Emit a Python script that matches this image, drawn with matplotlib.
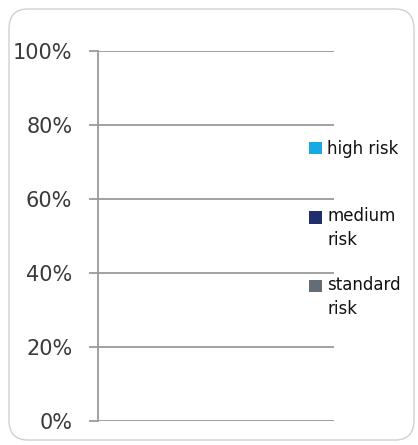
import matplotlib.pyplot as plt
import numpy as np
from matplotlib.patches import FancyBboxPatch, Rectangle
from matplotlib.legend import Legend
from matplotlib.legend_handler import HandlerPatch
from matplotlib.ticker import PercentFormatter

# Data (the chart shows no visible bars: every share is zero)
categories = [""]
standard_risk = [0]
medium_risk = [0]
high_risk = [0]
y_ticks = [0, 20, 40, 60, 80, 100]

colors = {
    "high": "#17A9E1",
    "medium": "#1F2E6E",
    "standard": "#646C75",
}

fig = plt.figure(figsize=(4.18, 4.45), dpi=100)

# rounded frame around the chart
frame = FancyBboxPatch((9 / 418, 5 / 445), 405 / 418, 431 / 445,
                       boxstyle="round,pad=0,rounding_size=0.045",
                       transform=fig.transFigure, facecolor="white",
                       edgecolor="#d0d0d0", linewidth=1.0, zorder=-10)
fig.patches.append(frame)

ax = fig.add_axes([98 / 418, 1 - 421 / 445, (334 - 98) / 418, (421 - 51) / 445])
ax.set_facecolor("none")
ax.set_zorder(5)

x = np.arange(len(categories))
b1 = ax.bar(x, standard_risk, width=0.5, color=colors["standard"], label="standard\nrisk")
b2 = ax.bar(x, medium_risk, width=0.5, bottom=standard_risk,
            color=colors["medium"], label="medium\nrisk")
bottom2 = np.array(standard_risk) + np.array(medium_risk)
b3 = ax.bar(x, high_risk, width=0.5, bottom=bottom2, color=colors["high"], label="high risk")

ax.set_xlim(-0.5, 0.5)
ax.set_ylim(0, 100)
ax.set_yticks(y_ticks)
ax.yaxis.set_major_formatter(PercentFormatter(decimals=0))
ax.set_xticks([])

for s in ["top", "right", "bottom"]:
    ax.spines[s].set_visible(False)
ax.spines["left"].set_color("#9a9a9a")
ax.spines["left"].set_linewidth(1.3)

ax.grid(axis="y", color="#9a9a9a", linewidth=1.3)
ax.set_axisbelow(True)
ax.tick_params(axis="y", length=6.5, width=1.3, color="#9a9a9a",
               pad=12, labelsize=15, labelcolor="#3a3a3a")


# swatch aligned with the first line of a two-line label
def top_square(shift):
    def f(legend, orig_handle, xdescent, ydescent, width, height, fontsize):
        return Rectangle((-xdescent, -ydescent + shift), width, height)
    return f


FS = 12
LINE_GAP = 1.42
entries = [
    (b3, "high risk", 0.736, 0),
    (b2, "medium\nrisk", 0.522, 8.4),
    (b1, "standard\nrisk", 0.336, 8.4),
]
for container, label, ypos, shift in entries:
    handle = container.patches[0]
    leg = Legend(ax, [handle], [label], loc="center left",
                 bbox_to_anchor=(0.894, ypos), frameon=False,
                 fontsize=FS, handlelength=0.78, handleheight=0.78,
                 handletextpad=0.32, borderpad=0, borderaxespad=0,
                 handler_map={handle: HandlerPatch(patch_func=top_square(shift))})
    for t in leg.get_texts():
        t.set_color("#111111")
        t.set_linespacing(LINE_GAP)
    ax.add_artist(leg)

fig.savefig("out.png", dpi=100)
